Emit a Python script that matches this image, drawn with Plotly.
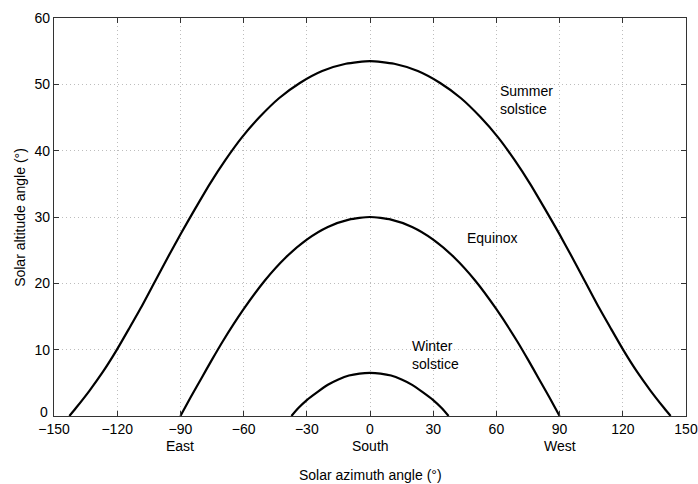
import plotly.graph_objects as go

# Summer solstice (azimuth, altitude)
summer_az = [-142.7, -139.6, -133.2, -126.9, -120.7, -114.5, -108.4, -102.2, -96.0, -89.6,
             -82.9, -76.0, -68.6, -60.8, -52.3, -43.2, -33.3, -22.7, -11.5, 0.0,
             11.5, 22.7, 33.3, 43.2, 52.3, 60.8, 68.6, 76.0, 82.9, 89.6,
             96.0, 102.2, 108.4, 114.5, 120.7, 126.9, 133.2, 139.6, 142.7]
summer_alt = [0.0, 1.2, 3.8, 6.6, 9.7, 13.1, 16.5, 20.2, 23.9, 27.6,
              31.3, 35.0, 38.6, 42.0, 45.1, 47.9, 50.2, 52.0, 53.1, 53.5,
              53.1, 52.0, 50.2, 47.9, 45.1, 42.0, 38.6, 35.0, 31.3, 27.6,
              23.9, 20.2, 16.5, 13.1, 9.7, 6.6, 3.8, 1.2, 0.0]

# Equinox
equinox_az = [-90, -85, -80, -75, -70, -60, -50, -40, -30, -20, -10, 0,
              10, 20, 30, 40, 50, 60, 70, 75, 80, 85, 90]
equinox_alt = [0.0, 2.9, 5.7, 8.5, 11.2, 16.1, 20.4, 23.9, 26.6, 28.5, 29.6, 30.0,
               29.6, 28.5, 26.6, 23.9, 20.4, 16.1, 11.2, 8.5, 5.7, 2.9, 0.0]

# Winter solstice
winter_az = [-37.3, -34.0, -30.0, -25.0, -20.0, -15.0, -10.0, -5.0, 0.0,
             5.0, 10.0, 15.0, 20.0, 25.0, 30.0, 34.0, 37.3]
winter_alt = [0.0, 1.2, 2.4, 3.6, 4.7, 5.5, 6.1, 6.4, 6.5,
              6.4, 6.1, 5.5, 4.7, 3.6, 2.4, 1.2, 0.0]

x_ticks = [-150, -120, -90, -60, -30, 0, 30, 60, 90, 120, 150]
y_ticks = [0, 10, 20, 30, 40, 50, 60]
direction_pos = [-90, 0, 90]
direction_lbl = ["East", "South", "West"]

FONT = "Liberation Sans, Arial, sans-serif"
TXT = dict(family=FONT, size=14, color="black")
line = dict(color="black", width=2.2, shape="spline", smoothing=0.6)

fig = go.Figure()
for az, alt in [(summer_az, summer_alt), (equinox_az, equinox_alt), (winter_az, winter_alt)]:
    fig.add_trace(go.Scatter(x=az, y=alt, mode="lines", line=line, showlegend=False,
                             hoverinfo="skip"))

axis_common = dict(
    showline=True, linecolor="#333333", linewidth=1.2, mirror="ticks",
    ticks="inside", ticklen=5, tickcolor="#333333", tickwidth=1,
    showgrid=True, gridcolor="#bdbdbd", griddash="1px,3px", gridwidth=1,
    zeroline=False, tickfont=TXT, automargin=False,
)

fig.update_xaxes(range=[-150, 150], tickvals=x_ticks,
                 ticktext=[str(v).replace("-", "\u2212") for v in x_ticks],
                 ticklabelstandoff=0, **axis_common)
fig.update_yaxes(range=[0, 60], tickvals=y_ticks,
                 ticktext=["" if v == 0 else str(v) for v in y_ticks],
                 **axis_common)

# y "0" label sits slightly raised, as in the reference
fig.add_annotation(x=0, xref="paper", xanchor="right", xshift=-4, y=0, yref="y",
                   yanchor="middle", yshift=4, text="0", showarrow=False, font=TXT)

for p, t in zip(direction_pos, direction_lbl):
    fig.add_annotation(x=p, xref="x", y=-0.076, yref="paper", yanchor="middle", text=t,
                       showarrow=False, font=TXT)

fig.add_annotation(x=0.5, xref="paper", y=-0.148, yref="paper", yanchor="middle",
                   text="Solar azimuth angle (°)", showarrow=False, font=TXT)
fig.add_annotation(x=-0.054, xref="paper", y=0.5, yref="paper", xanchor="center",
                   yanchor="middle", textangle=-90, text="Solar altitude angle (°)",
                   showarrow=False, font=TXT)

fig.add_annotation(x=60.7, y=47.7, text="Summer<br>solstice", xanchor="left", yanchor="middle",
                   align="left", showarrow=False, font=TXT)
fig.add_annotation(x=45.1, y=26.8, text="Equinox", xanchor="left", yanchor="middle",
                   align="left", showarrow=False, font=TXT)
fig.add_annotation(x=19.0, y=9.2, text="Winter<br>solstice", xanchor="left", yanchor="middle",
                   align="left", showarrow=False, font=TXT)

fig.update_layout(width=698, height=484, margin=dict(l=54, r=12, t=18, b=68, autoexpand=False),
                  plot_bgcolor="white", paper_bgcolor="white", font=TXT)

fig.write_html("out.html")
